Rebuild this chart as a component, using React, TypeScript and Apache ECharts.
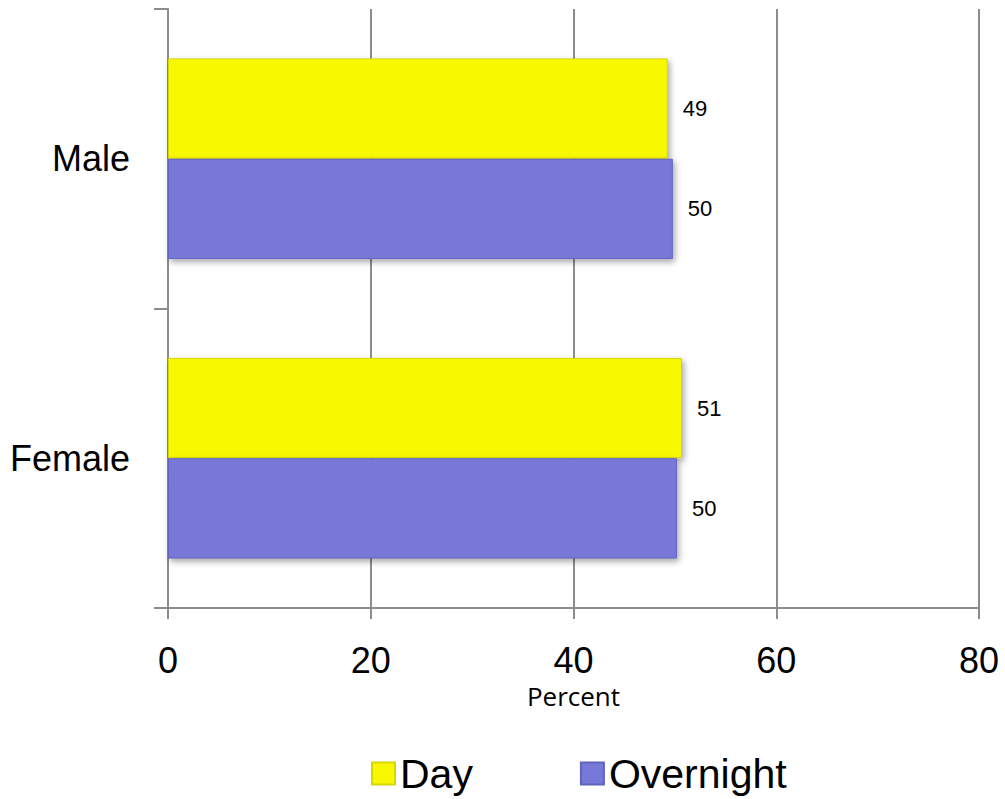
import React, { useEffect, useRef } from "react";
import * as echarts from "echarts";

const categories = ["Male", "Female"];
const dayValues = [49.3, 50.7];
const overnightValues = [49.8, 50.2];
const xTicks = { min: 0, max: 80, interval: 20 };

const AXIS_GRAY = "#8c8c8c";

export default function App() {
  const ref = useRef<HTMLDivElement>(null);
  useEffect(() => {
    const chart = echarts.init(ref.current!, undefined, { renderer: "svg" });
    const barShadow = {
      shadowColor: "rgba(0,0,0,0.35)",
      shadowBlur: 6,
      shadowOffsetX: 2,
      shadowOffsetY: 3,
    };
    const labelCfg = {
      show: true,
      position: "right",
      distance: 15,
      fontSize: 22,
      color: "#000",
      fontFamily: "Liberation Sans, Arial",
      formatter: (p: any) => String(Math.round(p.value)),
    };
    chart.setOption({
      animation: false,
      grid: { left: 168, right: 26, top: 9, bottom: 191, containLabel: false, outerBoundsMode: "none" },
      legend: {
        left: 366,
        top: 748,
        icon: "rect",
        itemWidth: 23,
        itemHeight: 22,
        itemGap: 107,
        textStyle: { fontSize: 41, color: "#000", fontFamily: "Liberation Sans, Arial" },
        data: ["Day", "Overnight"],
      },
      xAxis: {
        type: "value",
        min: xTicks.min,
        max: xTicks.max,
        interval: xTicks.interval,
        axisLine: { show: true, lineStyle: { color: AXIS_GRAY, width: 2 } },
        axisTick: { show: true, length: 11, lineStyle: { color: AXIS_GRAY, width: 2 } },
        splitLine: { show: true, lineStyle: { color: AXIS_GRAY, width: 2 } },
        axisLabel: { fontSize: 36, color: "#000", fontFamily: "Liberation Sans, Arial", margin: 34 },
        name: "Percent",
        nameLocation: "middle",
        nameGap: 74,
        nameTextStyle: { fontSize: 26, color: "#000", fontFamily: "Open Sans" },
      },
      yAxis: {
        type: "category",
        inverse: true,
        data: categories,
        axisLine: { show: true, lineStyle: { color: AXIS_GRAY, width: 2 } },
        axisTick: { show: true, length: 14, lineStyle: { color: AXIS_GRAY, width: 2 } },
        axisLabel: { fontSize: 36, color: "#000", fontFamily: "Liberation Sans, Arial", margin: 38 },
        splitLine: { show: false },
      },
      series: [
        {
          name: "Day",
          type: "bar",
          data: dayValues,
          barGap: "0%",
          barCategoryGap: "33%",
          itemStyle: { color: "#f8f800", borderColor: "#d6d600", borderWidth: 1, ...barShadow },
          label: labelCfg,
        },
        {
          name: "Overnight",
          type: "bar",
          data: overnightValues,
          barGap: "0%",
          barCategoryGap: "33%",
          itemStyle: { color: "#7878d9", borderColor: "#6262c0", borderWidth: 1, ...barShadow },
          label: labelCfg,
        },
      ],
    });
    return () => chart.dispose();
  }, []);
  return (
    <div
      ref={ref}
      style={{ position: "fixed", left: 0, top: 0, width: 1005, height: 799, background: "#fff" }}
    />
  );
}
